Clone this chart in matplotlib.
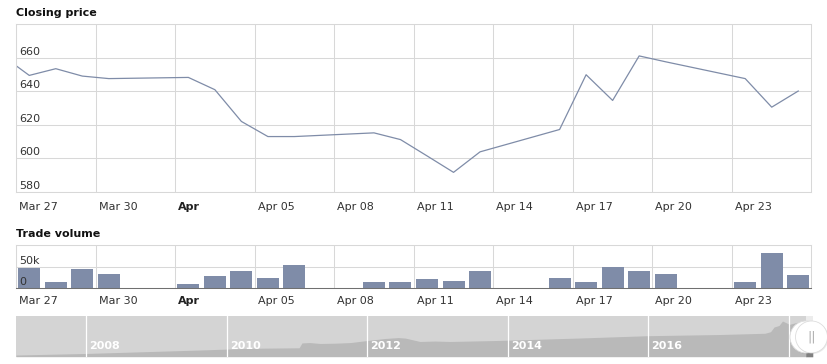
import numpy as np
import pandas as pd
import matplotlib

matplotlib.use('Agg')
import matplotlib.pyplot as plt
from matplotlib.patches import Circle
from matplotlib.transforms import offset_copy

# closing price, trading days (Mar 26 is only partly visible at the left edge)
close_dates = ['2018-03-26', '2018-03-27', '2018-03-28', '2018-03-29', '2018-03-30',
               '2018-04-02', '2018-04-03', '2018-04-04', '2018-04-05', '2018-04-06',
               '2018-04-09', '2018-04-10', '2018-04-11', '2018-04-12', '2018-04-13',
               '2018-04-16', '2018-04-17', '2018-04-18', '2018-04-19', '2018-04-20',
               '2018-04-23', '2018-04-24', '2018-04-25']
close_values = [661.0, 649.4, 653.4, 649.0, 647.5,
                648.2, 640.9, 622.0, 613.0, 613.0,
                615.2, 611.2, 601.5, 591.7, 603.9,
                617.2, 649.8, 634.5, 661.0, 657.5,
                647.5, 630.5, 640.1]
# trade volume (thousands) from Mar 27 on
volume_k = [46, 13, 43.7, 32,
            8.6, 27, 39, 22.7, 53,
            13, 13, 20, 15.6, 39,
            22.7, 13, 48, 39, 32,
            13, 83, 30]

tick_labels = ['Mar 27', 'Mar 30', 'Apr', 'Apr 05', 'Apr 08', 'Apr 11',
               'Apr 14', 'Apr 17', 'Apr 20', 'Apr 23']
price_ticks = [580, 600, 620, 640, 660]
volume_ticks = [0, 50]

# navigator: long history of the closing price (year, value)
nav_years = [2007.0, 2008.0, 2009.62, 2010.33, 2011.03, 2011.07, 2011.18, 2011.33,
             2011.54, 2011.76, 2012.0, 2012.25, 2012.44, 2012.54, 2012.75, 2012.96,
             2013.18, 2013.84, 2015.02, 2015.99, 2017.02, 2017.66, 2017.74, 2017.79,
             2017.86, 2017.91, 2018.01, 2018.16, 2018.34]
nav_values = [31, 60, 124, 156, 165, 255, 262, 245,
              250, 262, 300, 337, 354, 345, 282, 290,
              282, 300, 346, 389, 411, 434, 463, 550,
              578, 661, 600, 650, 640]
nav_grid_years = [2008, 2010, 2012, 2014, 2016, 2018]
nav_labels = ['2008', '2010', '2012', '2014', '2016']  # 2018 sits under the handle

start = pd.Timestamp('2018-03-27')
day_idx = np.array([(pd.Timestamp(d) - start).days for d in close_dates]) + 0.5
tick_pos = [0, 3, 6, 9, 12, 15, 18, 21, 24, 27]

W, H = 828, 364
LINE_COLOR = '#7f8ca8'
GRID = '#d8d8d8'
TXT = '#333333'

fig = plt.figure(figsize=(W / 100, H / 100), dpi=100)


def box(l, t, r, b):
    return [l / W, 1 - b / H, (r - l) / W, (b - t) / H]


def style_axis(ax):
    ax.set_xlim(0, 30)
    ax.set_xticks(tick_pos)
    ax.grid(True, color=GRID, linewidth=0.75)
    ax.set_axisbelow(True)
    ax.tick_params(length=0, labelbottom=False, labelleft=False)
    for s in ax.spines.values():
        s.set_color(GRID)
        s.set_linewidth(0.75)


def x_labels(ax, dy):
    for p, lab in zip(tick_pos, tick_labels):
        ax.text(p, 0, lab, transform=offset_copy(ax.get_xaxis_transform(), fig=fig, x=3, y=-dy, units='dots'),
                ha='left', va='center', fontsize=8, color='#222222' if lab == 'Apr' else TXT,
                fontweight='bold' if lab == 'Apr' else 'normal')


def y_labels(ax, ticks, fmt):
    for v in ticks:
        ax.text(0, v, fmt(v), transform=offset_copy(ax.get_yaxis_transform(), fig=fig, x=3, y=6, units='dots'),
                ha='left', va='center', fontsize=8, color=TXT)


# closing price
ax1 = fig.add_axes(box(16, 24, 811.5, 192))
style_axis(ax1)
ax1.set_ylim(580, 680)
ax1.set_yticks([580, 600, 620, 640, 660, 680])
ax1.plot(day_idx, close_values, color=LINE_COLOR, linewidth=0.9)
x_labels(ax1, 15)
y_labels(ax1, price_ticks, lambda v: str(v))
fig.text(16 / W, 1 - 13 / H, 'Closing price', fontsize=8, fontweight='bold', color='#111111', va='center')

# trade volume
ax2 = fig.add_axes(box(16, 245.3, 811.5, 287.7))
style_axis(ax2)
ax2.set_ylim(0, 100)
ax2.set_yticks([0, 50, 100])
ax2.bar(day_idx[1:], volume_k, width=0.83, color=LINE_COLOR, zorder=2)
ax2.spines['bottom'].set_color('#707070')
x_labels(ax2, 13.5)
y_labels(ax2, volume_ticks, lambda v: '%dk' % v if v else '0')
fig.text(16 / W, 1 - 234 / H, 'Trade volume', fontsize=8, fontweight='bold', color='#111111', va='center')

# navigator
ax3 = fig.add_axes(box(16, 316, 812.7, 356.7))
ax3.set_xlim(2007.0, 2018.34)
ax3.set_ylim(0, 754)
ax3.set_facecolor('#d4d4d4')
ax3.fill_between(nav_years, nav_values, color='#b9b9b9', linewidth=0)
sel = 2018.24
ax3.axvspan(sel, 2018.34, color='#ececec', zorder=1, linewidth=0)
ax3.fill_between([sel, 2018.34], [650, 640], color='#808080', zorder=1.5, linewidth=0)
for yr in nav_grid_years:
    ax3.axvline(yr, color='white', linewidth=0.9)
for yr, lab in zip(nav_grid_years, nav_labels):
    ax3.text(yr, 0, lab, transform=offset_copy(ax3.get_xaxis_transform(), fig=fig, x=3, y=10.5, units='dots'),
             ha='left', va='center', fontsize=8, fontweight='bold', color='white')
ax3.set_xticks([])
ax3.set_yticks([])
for s in ax3.spines.values():
    s.set_visible(False)

# handles of the navigator
ov = fig.add_axes([0, 0, 1, 1], zorder=10)
ov.set_xlim(0, W)
ov.set_ylim(H, 0)
ov.axis('off')
for cx in (806, 811.5):
    ov.add_patch(Circle((cx + 1, 338), 16, color='#000000', alpha=0.08, linewidth=0))
    ov.add_patch(Circle((cx, 337), 16, facecolor='white', edgecolor='#dddddd', linewidth=0.6))
ov.text(811.5, 337, '||', ha='center', va='center', fontsize=9, color='#aaaaaa')

fig.savefig('out.png', dpi=100)
